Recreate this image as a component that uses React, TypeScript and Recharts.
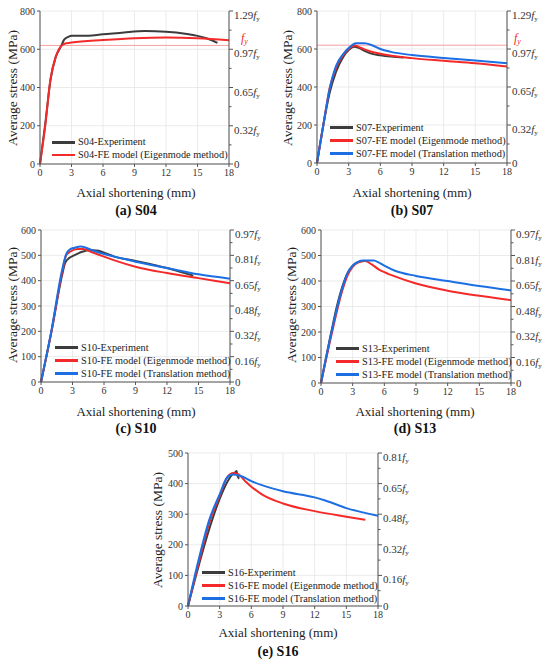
import React from "react";
import {
  LineChart,
  Line,
  XAxis,
  YAxis,
  CartesianGrid,
  ReferenceLine,
  Legend,
} from "recharts";

const FONT = "Liberation Serif";
const BLACK = "#3c3c3c";
const RED = "#f42a2a";
const BLUE = "#1c6fe3";
const AXIS = "#555555";

const xTicks = [0, 3, 6, 9, 12, 15, 18];
const fy = 620;

// y ticks and the fy ratios shown on the right axis
const ticks800 = [0, 200, 400, 600, 800];
const ratio800 = ["0", "0.32", "0.65", "0.97", "1.29"];
const ticks600 = [0, 100, 200, 300, 400, 500, 600];
const ratio600 = ["0", "0.16", "0.32", "0.48", "0.65", "0.81", "0.97"];
const ticks500 = [0, 100, 200, 300, 400, 500];
const ratio500 = ["0", "0.16", "0.32", "0.48", "0.65", "0.81"];

// S04
const s04Exp = [[0, 0], [0.5, 210], [1, 440], [1.5, 560], [2, 615], [2.3, 650], [2.7, 665], [3, 670], [4, 670], [6, 678], [8, 688], [10, 695], [12, 692], [14, 680], [15, 670], [16, 655], [16.9, 633]];
const s04Eig = [[0, 0], [0.5, 200], [1, 445], [1.5, 560], [1.8, 600], [2.2, 625], [2.6, 632], [3, 635], [6, 648], [9, 658], [12, 662], [15, 658], [18, 647]];

// S07
const s07Exp = [[0, 0], [0.6, 200], [1.2, 370], [1.8, 480], [2.5, 560], [3, 595], [3.5, 612], [4, 605], [4.5, 590], [5, 578], [6, 567], [7, 560], [8.2, 555]];
const s07Eig = [[0, 0], [0.6, 200], [1.2, 395], [1.8, 500], [2.5, 570], [3, 600], [3.6, 618], [4.2, 605], [5, 588], [6, 575], [9, 552], [12, 538], [15, 525], [18, 508]];
const s07Tra = [[0, 0], [0.6, 200], [1.2, 390], [1.8, 510], [2.5, 575], [3, 605], [3.7, 630], [4.5, 630], [5.2, 620], [6, 600], [7, 585], [9, 568], [12, 553], [15, 540], [18, 525]];

// S10
const s10Exp = [[0, 0], [1, 200], [2, 420], [2.3, 470], [2.7, 490], [3, 497], [3.5, 507], [4, 515], [4.5, 520], [5, 520], [5.5, 518], [6, 510], [7, 495], [9, 478], [11, 460], [12, 450], [13, 438], [14.5, 420]];
const s10Eig = [[0, 0], [1, 200], [2, 430], [2.4, 500], [2.8, 515], [3.5, 525], [4, 525], [5, 510], [6, 495], [7, 480], [9, 455], [12, 430], [15, 410], [18, 390]];
const s10Tra = [[0, 0], [1, 205], [2, 440], [2.4, 505], [2.7, 522], [3.2, 530], [3.8, 535], [4.3, 530], [5, 518], [6, 505], [7, 495], [9, 475], [12, 450], [15, 425], [18, 408]];

// S13
const s13Exp = [[0, 0], [1, 205], [1.5, 300], [2, 375], [2.5, 430], [3, 460], [3.5, 474], [4, 478]];
const s13Eig = [[0, 0], [1, 190], [2, 360], [2.5, 420], [3, 455], [3.5, 472], [4.2, 478], [4.8, 465], [5.5, 445], [6, 435], [7, 418], [9, 390], [12, 362], [15, 342], [18, 325]];
const s13Tra = [[0, 0], [1, 200], [2, 370], [2.5, 430], [3, 460], [3.5, 475], [4, 480], [5, 480], [5.5, 472], [6, 460], [7, 440], [9, 420], [12, 400], [15, 380], [18, 363]];

// S16
const s16Exp = [[0, 0], [1, 130], [2, 250], [3, 350], [3.8, 410], [4.2, 430], [4.5, 438], [4.6, 441], [4.7, 425], [4.85, 416]];
const s16Eig = [[0, 0], [1, 140], [2, 270], [3, 360], [3.7, 420], [4.3, 435], [4.8, 430], [5.5, 405], [6, 390], [7, 365], [9, 335], [12, 310], [15, 292], [16.8, 282]];
const s16Tra = [[0, 0], [1, 150], [2, 280], [3, 365], [3.7, 420], [4.2, 430], [5, 425], [6, 408], [7, 395], [9, 375], [12, 355], [13, 345], [15, 320], [18, 295]];

const toPts = (arr: number[][]) => arr.map(([x, y]) => ({ x, y }));

type Series = { name: string; color: string; data: number[][] };

type PanelProps = {
  left: number;
  top: number;
  width: number;
  height: number;
  margin: { top: number; bottom: number };
  yLeftWidth: number;
  yRightWidth: number;
  yMax: number;
  yTicks: number[];
  ratios: string[];
  series: Series[];
  fyDx?: number;
  legendAt: { left: number; top: number };
  yTitleX: number;
  yTitleY: number;
  xTitleX: number;
  xTitleY: number;
  captionY: number;
  caption: string;
};

const RightTick = (props: any) => {
  const { payload, majors, labels } = props;
  const x = Number(props.x);
  const y = Number(props.y);
  const value = payload ? payload.value : 0;
  const idx = majors.indexOf(value);
  const ax = x - 4;
  if (idx < 0) {
    return <line x1={ax} x2={ax + 2.5} y1={y} y2={y} stroke={AXIS} strokeWidth={1} />;
  }
  const label = labels[idx];
  return (
    <g>
      <line x1={ax} x2={ax + 4} y1={y} y2={y} stroke={AXIS} strokeWidth={1} />
      <text x={x + 1} y={y + (value === 0 ? 4 : 8)} fontFamily={FONT} fontSize={11} fill="#333" stroke="none">
        {label}
        {label !== "0" ? <tspan fontStyle="italic">f</tspan> : null}
        {label !== "0" ? <tspan fontSize={7} dy={2}>y</tspan> : null}
      </text>
    </g>
  );
};

const LegendBox = (props: any) => {
  const { payload, rowH } = props;
  return (
    <div style={{ fontFamily: FONT, fontSize: 10.3, color: "#222", lineHeight: `${rowH}px` }}>
      {(payload || []).map((p: any) => (
        <div key={p.value} style={{ display: "flex", alignItems: "center", whiteSpace: "nowrap" }}>
          <span style={{ display: "inline-block", width: 23, height: 2.5, background: p.color, marginRight: 3 }} />
          <span>{p.value}</span>
        </div>
      ))}
    </div>
  );
};

const textBase: React.CSSProperties = {
  position: "absolute",
  fontFamily: FONT,
  color: "#222",
  whiteSpace: "nowrap",
  transform: "translate(-50%, -50%)",
};

const Panel = (p: PanelProps) => {
  const minor = p.yTicks.slice(1).map((t, i) => (t + p.yTicks[i]) / 2);
  const rightTicks = [...p.yTicks, ...minor].sort((a, b) => a - b);
  const rowH = p.series.length > 2 ? 13 : 12.5;
  return (
    <>
      <div style={{ position: "absolute", left: p.left, top: p.top, fontFamily: FONT }}>
        <LineChart
          width={p.width}
          height={p.height}
          margin={{ top: p.margin.top, right: 0, left: 0, bottom: p.margin.bottom }}
          style={{ fontFamily: FONT }}
        >
          <CartesianGrid stroke="#e6e6e6" strokeWidth={0.8} yAxisId="left" />
          <XAxis
            type="number"
            dataKey="x"
            domain={[0, 18]}
            ticks={xTicks}
            allowDuplicatedCategory={false}
            height={20}
            tickSize={3}
            tickMargin={2}
            stroke={AXIS}
            tick={{ fontFamily: FONT, fontSize: 10, fill: "#333" }}
          />
          <YAxis
            yAxisId="left"
            type="number"
            domain={[0, p.yMax]}
            ticks={p.yTicks}
            width={p.yLeftWidth}
            tickSize={3}
            tickMargin={2}
            stroke={AXIS}
            tick={{ fontFamily: FONT, fontSize: 10, fill: "#333" }}
          />
          <YAxis
            yAxisId="right"
            orientation="right"
            type="number"
            domain={[0, p.yMax]}
            allowDataOverflow
            ticks={rightTicks}
            interval={0}
            width={p.yRightWidth}
            tickLine={false}
            tickSize={3}
            tickMargin={1}
            stroke={AXIS}
            tick={<RightTick majors={p.yTicks} labels={p.ratios} />}
          />
          {p.fyDx !== undefined && (
            <ReferenceLine
              yAxisId="left"
              y={fy}
              stroke="#f6a0a0"
              strokeWidth={1}
              label={(lp: any) => {
                const vb = lp.viewBox;
                return (
                  <text x={vb.x + vb.width + (p.fyDx as number)} y={vb.y - 3} fontFamily={FONT} fontSize={12} fill={RED} fontStyle="italic">
                    f<tspan fontSize={8} dy={1.5}>y</tspan>
                  </text>
                );
              }}
            />
          )}
          {p.series.map((s) => (
            <Line
              key={s.name}
              yAxisId="left"
              data={toPts(s.data)}
              dataKey="y"
              name={s.name}
              type="monotone"
              stroke={s.color}
              strokeWidth={2}
              dot={false}
              isAnimationActive={false}
            />
          ))}
          <Legend
            layout="vertical"
            align="center"
            verticalAlign="middle"
            content={<LegendBox rowH={rowH} />}
            wrapperStyle={{ left: p.legendAt.left, top: p.legendAt.top, width: "auto", height: "auto" }}
          />
        </LineChart>
      </div>
      <div
        style={{
          ...textBase,
          left: p.yTitleX,
          top: p.yTitleY,
          fontSize: 13.5,
          transform: "translate(-50%, -50%) rotate(-90deg)",
        }}
      >
        Average stress (MPa)
      </div>
      <div style={{ ...textBase, left: p.xTitleX, top: p.xTitleY, fontSize: 13 }}>
        Axial shortening (mm)
      </div>
      <div style={{ ...textBase, left: p.xTitleX, top: p.captionY, fontSize: 14, fontWeight: "bold", color: "#111" }}>
        {p.caption}
      </div>
    </>
  );
};

export default function App() {
  return (
    <div style={{ position: "absolute", left: 0, top: 0, width: 550, height: 665, background: "#fff", fontFamily: FONT }}>
      <Panel
        left={0}
        top={0}
        width={275}
        height={220}
        margin={{ top: 11, bottom: 36 }}
        yLeftWidth={40}
        yRightWidth={46}
        yMax={800}
        yTicks={ticks800}
        ratios={ratio800}
        fyDx={12}
        series={[
          { name: "S04-Experiment", color: BLACK, data: s04Exp },
          { name: "S04-FE model (Eigenmode method)", color: RED, data: s04Eig },
        ]}
        legendAt={{ left: 52, top: 136 }}
        yTitleX={13}
        yTitleY={88}
        xTitleX={136}
        xTitleY={193}
        captionY={211}
        caption="(a) S04"
      />
      <Panel
        left={275}
        top={0}
        width={275}
        height={220}
        margin={{ top: 11, bottom: 37 }}
        yLeftWidth={42}
        yRightWidth={43}
        yMax={800}
        yTicks={ticks800}
        ratios={ratio800}
        fyDx={7}
        series={[
          { name: "S07-Experiment", color: BLACK, data: s07Exp },
          { name: "S07-FE model (Eigenmode method)", color: RED, data: s07Eig },
          { name: "S07-FE model (Translation method)", color: BLUE, data: s07Tra },
        ]}
        legendAt={{ left: 55, top: 121 }}
        yTitleX={288}
        yTitleY={88}
        xTitleX={412}
        xTitleY={193}
        captionY={211}
        caption="(b) S07"
      />
      <Panel
        left={0}
        top={220}
        width={275}
        height={220}
        margin={{ top: 10, bottom: 38 }}
        yLeftWidth={41}
        yRightWidth={45}
        yMax={600}
        yTicks={ticks600}
        ratios={ratio600}
        series={[
          { name: "S10-Experiment", color: BLACK, data: s10Exp },
          { name: "S10-FE model (Eigenmode method)", color: RED, data: s10Eig },
          { name: "S10-FE model (Translation method)", color: BLUE, data: s10Tra },
        ]}
        legendAt={{ left: 55, top: 121 }}
        yTitleX={13}
        yTitleY={305}
        xTitleX={136}
        xTitleY={412}
        captionY={429}
        caption="(c) S10"
      />
      <Panel
        left={275}
        top={220}
        width={275}
        height={220}
        margin={{ top: 10, bottom: 37 }}
        yLeftWidth={46}
        yRightWidth={39}
        yMax={600}
        yTicks={ticks600}
        ratios={ratio600}
        series={[
          { name: "S13-Experiment", color: BLACK, data: s13Exp },
          { name: "S13-FE model (Eigenmode method)", color: RED, data: s13Eig },
          { name: "S13-FE model (Translation method)", color: BLUE, data: s13Tra },
        ]}
        legendAt={{ left: 61, top: 122 }}
        yTitleX={292}
        yTitleY={305}
        xTitleX={415}
        xTitleY={412}
        captionY={429}
        caption="(d) S13"
      />
      <Panel
        left={140}
        top={440}
        width={275}
        height={225}
        margin={{ top: 13, bottom: 39 }}
        yLeftWidth={48}
        yRightWidth={37}
        yMax={500}
        yTicks={ticks500}
        ratios={ratio500}
        series={[
          { name: "S16-Experiment", color: BLACK, data: s16Exp },
          { name: "S16-FE model (Eigenmode method)", color: RED, data: s16Eig },
          { name: "S16-FE model (Translation method)", color: BLUE, data: s16Tra },
        ]}
        legendAt={{ left: 62, top: 126 }}
        yTitleX={158}
        yTitleY={530}
        xTitleX={278}
        xTitleY={633}
        captionY={652}
        caption="(e) S16"
      />
    </div>
  );
}
